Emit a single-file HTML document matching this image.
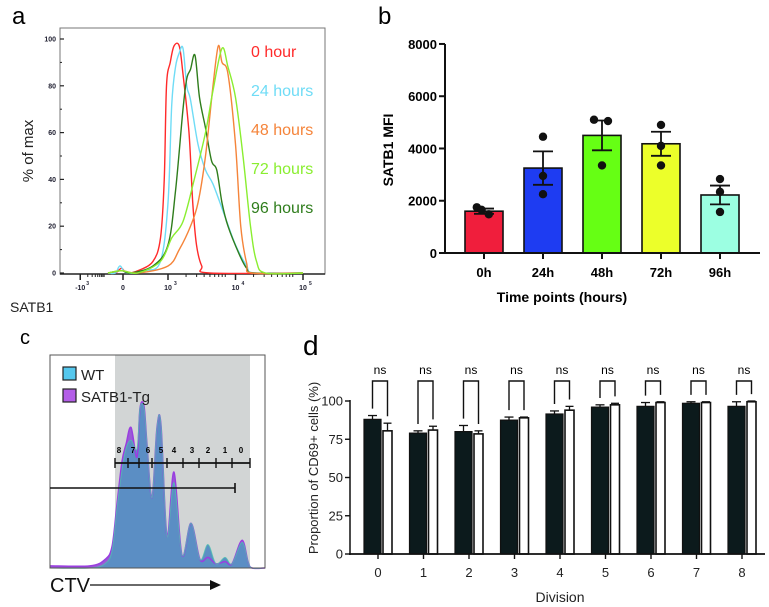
<!DOCTYPE html>
<html><head><meta charset="utf-8"><style>
body{margin:0;background:#fff}
svg{display:block;font-family:"Liberation Sans",sans-serif}
</style></head><body>
<svg id="fig" width="769" height="607" viewBox="0 0 769 607" xmlns="http://www.w3.org/2000/svg">
<!-- Panel a -->
<g id="pa">
<text x="12" y="24" font-size="24">a</text>
<rect x="60" y="28" width="265" height="246" fill="#fff" stroke="#777" stroke-width="1"/>
<text transform="translate(33,151) rotate(-90)" text-anchor="middle" font-size="15" fill="#222">% of max</text>
<text x="10" y="312" font-size="14" fill="#222">SATB1</text>
</g>
<!-- Panel b -->
<g id="pb">
<text x="378" y="24" font-size="24">b</text>
<text transform="translate(393,150) rotate(-90)" text-anchor="middle" font-size="14" font-weight="bold">SATB1 MFI</text>
<text x="562" y="302" text-anchor="middle" font-size="14" font-weight="bold">Time points (hours)</text>
</g>
<!-- Panel c -->
<g id="pc">
<text x="20" y="344" font-size="20">c</text>
<rect x="50" y="355" width="215" height="213" fill="#fff" stroke="#555"/>
<rect x="115" y="355" width="135" height="213" fill="#d2d5d5"/>
<text x="50" y="592" font-size="20" fill="#111">CTV</text>
<line x1="90" y1="585" x2="212" y2="585" stroke="#111" stroke-width="1.2"/>
<polygon points="210,580 221,585 210,590" fill="#111"/>
</g>
<!-- Panel d -->
<g id="pd">
<text x="303" y="355" font-size="28">d</text>
<text transform="translate(318,468) rotate(-90)" text-anchor="middle" font-size="13" fill="#222">Proportion of CD69+ cells (%)</text>
<text x="560" y="602" text-anchor="middle" font-size="14" fill="#222">Division</text>
</g>
</svg>
<script>
const NS="http://www.w3.org/2000/svg";
function mk(parent,tag,attrs,text){const e=document.createElementNS(NS,tag);for(const k in attrs)e.setAttribute(k,attrs[k]);if(text!==undefined)e.textContent=text;parent.appendChild(e);return e;}
function smooth(pts){let d="M"+pts[0][0]+","+pts[0][1];for(let i=0;i<pts.length-1;i++){const p0=pts[Math.max(0,i-1)],p1=pts[i],p2=pts[i+1],p3=pts[Math.min(pts.length-1,i+2)];const c1x=p1[0]+(p2[0]-p0[0])/6,c1y=p1[1]+(p2[1]-p0[1])/6,c2x=p2[0]-(p3[0]-p1[0])/6,c2y=p2[1]-(p3[1]-p1[1])/6;d+=" C"+c1x+","+c1y+" "+c2x+","+c2y+" "+p2[0]+","+p2[1];}return d;}

/* ===== Panel a data ===== */
const aLabels=["0 hour","24 hours","48 hours","72 hours","96 hours"];
const aColors=["#ff2a2a","#6fdcf6","#f5843a","#8aee30","#2f7d1c"];
const redX=[2.2,2.3,2.38,2.45,2.6,2.8,2.9,2.95,2.98,3.03,3.08,3.15,3.2,3.28,3.33,3.38,3.45,3.55,4.8];
const redY=[0,0,2,0,1,5,15,40,80,90,97,97,85,60,30,12,3,0,0];
const cyanX=[2.2,2.3,2.36,2.45,2.7,2.9,3.0,3.05,3.1,3.15,3.2,3.25,3.3,3.4,3.5,3.6,3.75,3.9,4.05,4.15,4.8];
const cyanY=[0,0,3,0,1,5,30,72,88,94,96,80,74,55,44,38,25,12,3,0,0];
const orangeX=[2.2,2.38,2.6,3.0,3.15,3.3,3.4,3.5,3.6,3.67,3.72,3.8,3.9,3.97,4.05,4.12,4.8];
const orangeY=[0,1,0,3,10,20,30,50,80,97,90,85,55,20,4,0,0];
const limeX=[2.2,2.38,2.6,2.9,3.05,3.2,3.35,3.5,3.6,3.72,3.8,3.9,4.0,4.1,4.18,4.3,4.8];
const limeY=[0,1,0,5,15,22,40,60,78,96,88,75,50,20,5,0,0];
const dgreenX=[2.2,2.38,2.5,2.8,3.0,3.1,3.2,3.25,3.3,3.36,3.42,3.5,3.58,3.65,3.72,3.8,3.95,4.05,4.15,4.8];
const dgreenY=[0,1,0,3,12,35,70,83,87,93,75,62,48,44,30,20,8,2,0,0];
const aYTicks=[0,20,40,60,80,100];
const aXTickVals=[1.83,2.4,3,3.9,4.8];
const aXTickText=[["-10","3"],["0",""],["10","3"],["10","4"],["10","5"]];
(function(){
 const g=document.getElementById("pa");
 const ax=d=>168+(d-3)*75, ay=v=>273-v*2.34;
 aYTicks.forEach(v=>{const t=mk(g,"text",{x:56,y:ay(v)+2.5,"text-anchor":"end","font-size":7,"font-weight":"bold",fill:"#223"},v);
  
  
  mk(g,"line",{x1:60,x2:64,y1:ay(v),y2:ay(v),stroke:"#222","stroke-width":1.2});});
 for(let v=10;v<100;v+=20) mk(g,"line",{x1:60,x2:62,y1:ay(v),y2:ay(v),stroke:"#222"});
 mk(g,"line",{x1:60,x2:325,y1:274,y2:274,stroke:"#222","stroke-width":1.5});
 aXTickVals.forEach((v,i)=>{mk(g,"line",{x1:ax(v),x2:ax(v),y1:274,y2:280,stroke:"#222","stroke-width":1.5});
  const t=mk(g,"text",{x:ax(v),y:290,"text-anchor":"middle","font-size":7,"font-weight":"bold",fill:"#223"},aXTickText[i][0]);
  
  
  if(aXTickText[i][1]) mk(g,"text",{x:ax(v)+6,y:285,"font-size":5,"font-weight":"bold",fill:"#223"},aXTickText[i][1]);});
 for(let k=2;k<10;k++){[3,3.9].forEach(b=>{const x=ax(b)+Math.log10(k)*60;mk(g,"line",{x1:x,x2:x,y1:274,y2:277,stroke:"#222"});});
  const x1=ax(1.83)+Math.log10(k)*25;mk(g,"line",{x1:x1,x2:x1,y1:274,y2:277,stroke:"#222"});}
 const series=[[redX,redY],[cyanX,cyanY],[dgreenX,dgreenY],[orangeX,orangeY],[limeX,limeY]];
 const cols=[aColors[0],aColors[1],aColors[4],aColors[2],aColors[3]];
 const names=["curve-0-hour","curve-24-hours","curve-96-hours","curve-48-hours","curve-72-hours"];
 series.forEach((s,i)=>{const pts=s[0].map((x,j)=>[ax(x),ay(s[1][j])]).filter(p=>p[0]<=325);
  const p=mk(g,"path",{d:smooth(pts),fill:"none",stroke:cols[i],"stroke-width":1.4});
  
  });
 aLabels.forEach((l,i)=>{const t=mk(g,"text",{x:251,y:57+i*39,"font-size":16,fill:aColors[i]},l);
  
  });
})();

/* ===== Panel b data ===== */
const bCats=["0h","24h","48h","72h","96h"];
const bMeans=[1600,3250,4500,4180,2220];
const bErrs=[100,640,570,460,360];
const bPts1=[1750,4450,5100,4900,2830];
const bPts2=[1480,2950,5050,4100,2340];
const bPts3=[1650,2250,3350,3350,1570];
const bColors=["#f01e3c","#1e3cf2","#66ff14","#ecff2a","#9cffe2"];
const bYTicks=[0,2000,4000,6000,8000];
(function(){
 const g=document.getElementById("pb");
 const by=v=>253-v*0.02613, bx=i=>484+i*59;
 bCats.forEach((c,i)=>{
  const r=mk(g,"rect",{x:bx(i)-19,y:by(bMeans[i]),width:38,height:253-by(bMeans[i]),fill:bColors[i],stroke:"#111","stroke-width":1.6});
  
  
  const hi=by(bMeans[i]+bErrs[i]),lo=by(bMeans[i]-bErrs[i]);
  mk(g,"line",{x1:bx(i),x2:bx(i),y1:hi,y2:lo,stroke:"#111","stroke-width":1.8});
  mk(g,"line",{x1:bx(i)-10,x2:bx(i)+10,y1:hi,y2:hi,stroke:"#111","stroke-width":1.8});
  mk(g,"line",{x1:bx(i)-10,x2:bx(i)+10,y1:lo,y2:lo,stroke:"#111","stroke-width":1.8});
  [[bPts1,-6],[bPts2,4],[bPts3,-2]].forEach(([arr,dx])=>{const p=mk(g,"circle",{cx:bx(i)+(i===0?dx*1.2:(arr===bPts1&&i===2?-8:(arr===bPts2&&i===2?6:0))),cy:by(arr[i]),r:4.2,fill:"#111"});
   
   });
  mk(g,"line",{x1:bx(i),x2:bx(i),y1:253,y2:259,stroke:"#111","stroke-width":2});
  const t=mk(g,"text",{x:bx(i),y:277,"text-anchor":"middle","font-size":13,"font-weight":"bold"},c);
  
  
 });
 mk(g,"line",{x1:445,x2:445,y1:44,y2:254,stroke:"#111","stroke-width":2});
 mk(g,"line",{x1:444,x2:760,y1:253,y2:253,stroke:"#111","stroke-width":2});
 bYTicks.forEach(v=>{mk(g,"line",{x1:439,x2:445,y1:by(v),y2:by(v),stroke:"#111","stroke-width":2});
  const t=mk(g,"text",{x:437,y:by(v)+5,"text-anchor":"end","font-size":13,"font-weight":"bold"},v);
  
  });
})();

/* ===== Panel c data ===== */
const cX=[0,40,55,62,67,72,76,81,87,90,94,97,102,107,111,117,124,132,141,150,158,166,175,182,192,198,202,215];
const cTg=[1,1,4,10,30,50,58,66,52,75,76,58,33,66,67,15,45,6,21,4,5,2,3,2,13,3,0,0];
const cWT=[0,0,2,8,28,46,56,60,56,75,75,58,33,66,67,15,40,6,21,4,11,2,5,2,12,3,0,0];
const cDivLabels=["8","7","6","5","4","3","2","1","0"];
const cDivPos=[69,83,98,111,124,142,158,175,191];
const cDivTicks=[65,78,89,102,117,133,149,166,182,200];
(function(){
 const g=document.getElementById("pc");
 const cx=v=>50+v, cy=v=>568-v*2.13;
 const mkArea=(ys)=>{const pts=cX.map((x,j)=>[cx(x),cy(ys[j])]);return smooth(pts);};
 const tgLine=mkArea(cTg), wtLine=mkArea(cWT);
 const a1=mk(g,"path",{d:tgLine+" L265,568 L50,568 Z",fill:"#9a5bd6"});
 
 
 const a2=mk(g,"path",{d:wtLine+" L265,568 L50,568 Z",fill:"#5b8ec4"});
 
 
 mk(g,"path",{d:tgLine,fill:"none",stroke:"#9a3ee0","stroke-width":1.5});
 mk(g,"path",{d:wtLine,fill:"none",stroke:"#4cc0b0","stroke-width":1,"stroke-opacity":0.8});
 mk(g,"rect",{x:50,y:355,width:215,height:213,fill:"none",stroke:"#555"});
 mk(g,"line",{x1:cx(cDivTicks[0]),x2:cx(cDivTicks[cDivTicks.length-1]),y1:463,y2:463,stroke:"#111","stroke-width":1.8});
 cDivTicks.forEach(v=>mk(g,"line",{x1:cx(v),x2:cx(v),y1:458,y2:468,stroke:"#111","stroke-width":1.4}));
 cDivLabels.forEach((l,i)=>{const t=mk(g,"text",{x:cx(cDivPos[i]),y:453,"text-anchor":"middle","font-size":8,"font-weight":"bold"},l);
  
  });
 mk(g,"line",{x1:50,x2:235,y1:488,y2:488,stroke:"#111","stroke-width":1.6});
 mk(g,"line",{x1:235,x2:235,y1:483,y2:493,stroke:"#111","stroke-width":1.6});
 [["WT","#55c8ee"],["SATB1-Tg","#b45ee8"]].forEach(([l,c],i)=>{
  const r=mk(g,"rect",{x:63,y:367+i*22,width:13,height:13,fill:c,stroke:"#222","stroke-width":1.2});
  
  
  const t=mk(g,"text",{x:81,y:380+i*22,"font-size":15,fill:"#222"},l);
  
  });
})();

/* ===== Panel d data ===== */
const dCats=["0","1","2","3","4","5","6","7","8"];
const dBlack=[88,79,80,87.5,91.5,96,96.5,98.5,96.5];
const dBlackErr=[2.5,1.5,4,2,2,1.5,2.5,1,3];
const dWhite=[80.5,81,78.5,89,94,97.5,99,99,99.5];
const dWhiteErr=[5,2.5,2,0.5,2.5,1,0.5,0.5,0.5];
const dYTicks=[0,25,50,75,100];
(function(){
 const g=document.getElementById("pd");
 const dy=v=>554-v*1.53, dx=i=>378+i*45.5;
 dCats.forEach((c,i)=>{
  const bxl=dx(i)-14, wxl=dx(i)+5;
  mk(g,"line",{x1:bxl+8.5,x2:bxl+8.5,y1:dy(dBlack[i]),y2:dy(dBlack[i]+dBlackErr[i]),stroke:"#111","stroke-width":1.3});
  mk(g,"line",{x1:bxl+4,x2:bxl+13,y1:dy(dBlack[i]+dBlackErr[i]),y2:dy(dBlack[i]+dBlackErr[i]),stroke:"#111","stroke-width":1.3});
  mk(g,"line",{x1:wxl+4.5,x2:wxl+4.5,y1:dy(dWhite[i]),y2:dy(dWhite[i]+dWhiteErr[i]),stroke:"#111","stroke-width":1.3});
  mk(g,"line",{x1:wxl+0.5,x2:wxl+8.5,y1:dy(dWhite[i]+dWhiteErr[i]),y2:dy(dWhite[i]+dWhiteErr[i]),stroke:"#111","stroke-width":1.3});
  const b=mk(g,"rect",{x:bxl,y:dy(dBlack[i]),width:17,height:554-dy(dBlack[i]),fill:"#0c1a1c",stroke:"#111","stroke-width":1.2});
  
  
  const w=mk(g,"rect",{x:wxl,y:dy(dWhite[i]),width:9,height:554-dy(dWhite[i]),fill:"#fff",stroke:"#111","stroke-width":1.6});
  
  
  const l1=dy(dBlack[i]+dBlackErr[i]+4.5), l2=dy(dWhite[i]+dWhiteErr[i]+4.5), top=381;
  const br=mk(g,"path",{d:`M${bxl+8.5},${l1} L${bxl+8.5},${top} L${wxl+4.5},${top} L${wxl+4.5},${l2}`,fill:"none",stroke:"#111","stroke-width":1.4});
  
  
  const ns=mk(g,"text",{x:dx(i)+2,y:374,"text-anchor":"middle","font-size":12},"ns");
  
  
  mk(g,"line",{x1:dx(i),x2:dx(i),y1:554,y2:559,stroke:"#111","stroke-width":1.4});
  const t=mk(g,"text",{x:dx(i),y:577,"text-anchor":"middle","font-size":13,fill:"#222"},c);
  
  
 });
 mk(g,"line",{x1:350,x2:350,y1:400,y2:555,stroke:"#111","stroke-width":1.5});
 mk(g,"line",{x1:349,x2:765,y1:554,y2:554,stroke:"#111","stroke-width":1.8});
 dYTicks.forEach(v=>{mk(g,"line",{x1:345,x2:350,y1:dy(v),y2:dy(v),stroke:"#111","stroke-width":1.4});
  const t=mk(g,"text",{x:343,y:dy(v)+4.5,"text-anchor":"end","font-size":13,fill:"#222"},v);
  
  });
})();
</script>
</body></html>
